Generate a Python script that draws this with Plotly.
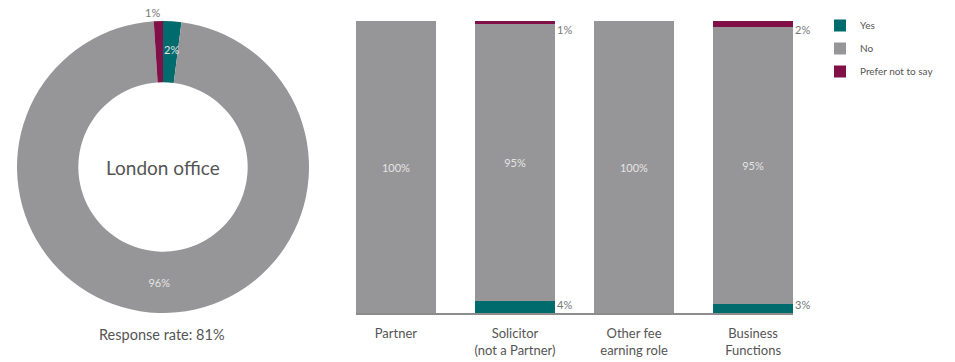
import plotly.graph_objects as go

# Response shares, London office overall
pie_labels = ["Yes", "No", "Prefer not to say"]
pie_values = [2, 96, 1]

# Responses by role (%)
roles = ["Partner", "Solicitor<br>(not a Partner)", "Other fee<br>earning role", "Business<br>Functions"]
yes_pct = [0, 4, 0, 3]
no_pct = [100, 95, 100, 95]
prefer_pct = [0, 1, 0, 2]

TEAL = "#006b6d"
GREY = "#969699"
PLUM = "#821048"
TEXT = "#555555"
FONT = "Lato"

W, H = 955, 362

def px(x):
    return x / W

def py(y):
    return 1 - y / H

fig = go.Figure()

# Donut
fig.add_trace(go.Pie(
    labels=pie_labels,
    values=pie_values,
    marker=dict(colors=[TEAL, GREY, PLUM], line=dict(width=0)),
    hole=0.58,
    sort=False,
    direction="clockwise",
    rotation=0,
    texttemplate=["", "%{value}%", ""],
    textposition=["none", "inside", "none"],
    insidetextorientation="horizontal",
    textfont=dict(color="#e4e4e4", size=11, family=FONT),
    domain=dict(x=[px(17), px(309)], y=[py(313), py(21)]),
    showlegend=False,
))

# Stacked bars
for name, vals, col, show_text in [
    ("Yes", yes_pct, TEAL, False),
    ("No", no_pct, GREY, True),
    ("Prefer not to say", prefer_pct, PLUM, False),
]:
    fig.add_trace(go.Bar(
        name=name,
        x=list(range(len(roles))),
        y=vals,
        marker=dict(color=col, line=dict(width=0)),
        text=[f"{v}%" for v in vals] if show_text else None,
        textposition="inside" if show_text else "none",
        insidetextanchor="middle",
        textfont=dict(color="#e4e4e4", size=11, family=FONT),
        legendgroup=name,
        width=0.67,
    ))

def paper_note(text, x, y, size, color):
    return dict(text=text, x=px(x), y=py(y), xref="paper", yref="paper",
                xanchor="center", yanchor="middle", showarrow=False,
                font=dict(size=size, color=color, family=FONT))

annotations = [
    paper_note("London office", 163, 168, 19, TEXT),
    paper_note("Response rate: 81%", 162, 334, 14.5, TEXT),
    paper_note(f"{pie_values[2]}%", 152, 12, 11, "#777777"),
    paper_note(f"{pie_values[0]}%", 171, 50, 11, "#e4e4e4"),
]

# Value labels for the thin segments, to the right of each bar
for i in range(len(roles)):
    if yes_pct[i]:
        annotations.append(dict(text=f"{yes_pct[i]}%", x=i + 0.335, y=0, xref="x", yref="y",
                                xanchor="left", yanchor="bottom", showarrow=False,
                                font=dict(size=11, color="#777777", family=FONT)))
    if prefer_pct[i]:
        top = yes_pct[i] + no_pct[i] + prefer_pct[i]
        annotations.append(dict(text=f"{prefer_pct[i]}%", x=i + 0.335, y=top, xref="x", yref="y",
                                xanchor="left", yanchor="top", showarrow=False,
                                font=dict(size=11, color="#777777", family=FONT)))

fig.update_layout(
    width=W, height=H,
    margin=dict(l=0, r=0, t=0, b=0),
    paper_bgcolor="white", plot_bgcolor="white",
    barmode="stack",
    bargap=0,
    font=dict(family=FONT, color=TEXT),
    xaxis=dict(
        domain=[px(356), px(793)],
        range=[-0.335, 3.335],
        tickmode="array",
        tickvals=list(range(len(roles))),
        ticktext=roles,
        showgrid=False, zeroline=False,
        showline=True, linecolor="#8c8c8c", linewidth=1.5,
        ticks="", ticklabelstandoff=8,
        tickfont=dict(size=13, color=TEXT, family=FONT),
    ),
    yaxis=dict(
        domain=[py(313), py(21)],
        range=[0, 100],
        visible=False,
        showgrid=False, zeroline=False,
    ),
    legend=dict(
        x=px(820), y=py(11), xanchor="left", yanchor="top",
        traceorder="grouped",
        tracegroupgap=4,
        font=dict(size=10, color=TEXT, family=FONT),
        bgcolor="rgba(0,0,0,0)",
    ),
    annotations=annotations,
)

fig.write_html("out.html")
